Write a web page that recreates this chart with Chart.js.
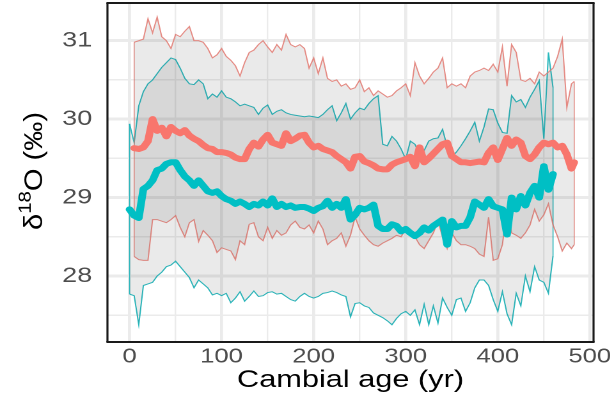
<!DOCTYPE html>
<html>
<head>
<meta charset="utf-8">
<script src="https://cdn.jsdelivr.net/npm/chart.js@4.4.1/dist/chart.umd.min.js"></script>
<style>
  html, body { margin: 0; padding: 0; background: #fff; }
  #chart { display: block; }
</style>
</head>
<body>
<canvas id="chart" width="480" height="412"></canvas>
<script>
// cambial age (yr) of each point, one group per colour
let redAge = [5, 10, 15, 20, 25, 30, 35, 40, 45, 50,
  55, 60, 65, 70, 75, 80, 85, 90, 95, 100,
  105, 110, 115, 120, 125, 130, 135, 140, 145, 150,
  155, 160, 165, 170, 175, 180, 185, 190, 195, 200,
  205, 210, 215, 220, 225, 230, 235, 240, 245, 250,
  255, 260, 265, 270, 275, 280, 285, 290, 295, 300,
  305, 310, 315, 320, 325, 330, 335, 340, 345, 350,
  355, 360, 365, 370, 375, 380, 385, 390, 395, 400,
  405, 410, 415, 420, 425, 430, 435, 440, 445, 450,
  455, 460, 465, 470, 475, 480, 483];
let redMean = [29.63, 29.62, 29.64, 29.72, 30.00, 29.85, 29.89, 29.78, 29.90, 29.85,
  29.82, 29.86, 29.79, 29.75, 29.72, 29.67, 29.63, 29.62, 29.58, 29.58,
  29.57, 29.55, 29.51, 29.49, 29.49, 29.62, 29.70, 29.65, 29.74, 29.80,
  29.70, 29.68, 29.66, 29.82, 29.72, 29.75, 29.79, 29.80, 29.70, 29.64,
  29.66, 29.62, 29.60, 29.58, 29.53, 29.49, 29.45, 29.37, 29.52, 29.53,
  29.46, 29.44, 29.41, 29.37, 29.36, 29.36, 29.42, 29.45, 29.47, 29.49,
  29.52, 29.40, 29.64, 29.45, 29.50, 29.56, 29.62, 29.68, 29.70, 29.53,
  29.49, 29.45, 29.45, 29.44, 29.45, 29.46, 29.45, 29.57, 29.64, 29.48,
  29.62, 29.76, 29.66, 29.74, 29.70, 29.53, 29.49, 29.55, 29.64, 29.70,
  29.68, 29.70, 29.64, 29.66, 29.55, 29.37, 29.45];
let redUpper = [30.98, 31.00, 31.02, 31.28, 31.10, 31.30, 31.05, 31.00, 30.90, 31.08,
  31.05, 31.12, 31.18, 31.00, 31.00, 30.98, 30.90, 30.78, 30.82, 30.90,
  30.80, 30.75, 30.68, 30.55, 30.72, 30.85, 30.88, 30.95, 31.00, 30.92,
  30.85, 30.95, 30.88, 31.08, 30.95, 30.92, 30.95, 30.90, 30.65, 30.78,
  30.58, 30.78, 30.52, 30.48, 30.50, 30.42, 30.45, 30.38, 30.40, 30.50,
  30.35, 30.40, 30.30, 30.36, 30.32, 30.28, 30.30, 30.36, 30.40, 30.45,
  30.30, 30.72, 30.55, 30.45, 30.52, 30.60, 30.65, 30.78, 30.40, 30.45,
  30.42, 30.45, 30.40, 30.55, 30.60, 30.62, 30.65, 30.62, 30.70, 30.60,
  30.92, 30.42, 30.95, 30.85, 30.50, 30.48, 30.52, 30.45, 30.60, 30.55,
  30.60, 30.65, 30.80, 31.02, 30.15, 30.45, 30.48];
let redLower = [28.25, 28.21, 28.20, 28.20, 28.72, 28.72, 28.70, 28.68, 28.72, 28.77,
  28.62, 28.50, 28.68, 28.72, 28.44, 28.58, 28.52, 28.45, 28.30, 28.36,
  28.34, 28.32, 28.21, 28.45, 28.40, 28.66, 28.68, 28.50, 28.45, 28.62,
  28.48, 28.58, 28.52, 28.55, 28.65, 28.70, 28.62, 28.60, 28.65, 28.55,
  28.70, 28.60, 28.40, 28.45, 28.48, 28.55, 28.38, 28.52, 28.75, 28.60,
  28.52, 28.45, 28.40, 28.38, 28.42, 28.45, 28.48, 28.52, 28.50, 28.60,
  28.55, 28.50, 28.40, 28.35, 28.45, 28.55, 28.70, 28.50, 28.35, 28.55,
  28.45, 28.40, 28.40, 28.38, 28.35, 28.28, 28.25, 28.75, 28.20, 28.22,
  28.40, 28.85, 28.55, 28.52, 28.48, 28.55, 28.65, 28.85, 28.70, 28.78,
  28.92, 28.65, 28.50, 28.32, 28.42, 28.35, 28.40];

let tealAge = [0, 5, 10, 15, 20, 25, 30, 35, 40, 45,
  50, 55, 60, 65, 70, 75, 80, 85, 90, 95,
  100, 105, 110, 115, 120, 125, 130, 135, 140, 145,
  150, 155, 160, 165, 170, 175, 180, 185, 190, 195,
  200, 205, 210, 215, 220, 225, 230, 235, 240, 245,
  250, 255, 260, 265, 270, 275, 280, 285, 290, 295,
  300, 305, 310, 315, 320, 325, 330, 335, 340, 345,
  350, 355, 360, 365, 370, 375, 380, 385, 390, 395,
  400, 405, 410, 415, 420, 425, 430, 435, 440, 445,
  450, 455, 460];
let tealMean = [28.85, 28.77, 28.74, 29.11, 29.15, 29.22, 29.35, 29.37, 29.43, 29.45,
  29.45, 29.35, 29.27, 29.22, 29.15, 29.22, 29.15, 29.08, 29.06, 29.08,
  29.02, 28.98, 28.96, 28.92, 28.95, 28.92, 28.88, 28.92, 28.90, 28.95,
  28.90, 28.99, 28.88, 28.92, 28.88, 28.90, 28.87, 28.88, 28.88, 28.86,
  28.83, 28.87, 28.89, 28.96, 28.87, 28.92, 28.87, 28.98, 28.72, 28.78,
  28.87, 28.85, 28.87, 28.91, 28.64, 28.60, 28.60, 28.66, 28.64, 28.57,
  28.60, 28.55, 28.51, 28.55, 28.62, 28.58, 28.64, 28.68, 28.72, 28.40,
  28.70, 28.62, 28.64, 28.64, 28.75, 28.95, 28.91, 28.87, 28.98, 28.89,
  28.87, 28.85, 28.53, 29.00, 28.85, 29.02, 28.90, 29.06, 29.15, 29.00,
  29.40, 29.10, 29.30];
let tealUpper = [29.94, 29.70, 30.17, 30.35, 30.45, 30.50, 30.58, 30.66, 30.72, 30.78,
  30.76, 30.65, 30.52, 30.45, 30.44, 30.50, 30.45, 30.26, 30.32, 30.28,
  30.36, 30.28, 30.26, 30.22, 30.17, 30.19, 30.17, 30.15, 30.06, 30.14,
  30.18, 30.06, 30.10, 30.12, 30.08, 30.06, 30.05, 30.04, 30.03, 30.04,
  30.03, 30.02, 30.06, 30.12, 30.17, 29.98, 30.08, 30.20, 30.00, 30.08,
  30.14, 30.12, 30.20, 30.26, 30.30, 29.68, 29.66, 29.78, 29.72, 29.62,
  29.49, 29.72, 29.68, 29.55, 29.60, 29.72, 29.75, 29.76, 29.87, 29.65,
  29.52, 29.58, 29.66, 29.75, 29.85, 29.96, 29.72, 29.90, 30.13, 30.12,
  29.95, 29.83, 29.82, 30.30, 30.22, 30.25, 30.15, 30.28, 30.38, 30.49,
  29.75, 30.85, 30.40];
let tealLower = [27.77, 27.75, 27.38, 27.88, 27.90, 27.92, 28.00, 28.05, 28.12, 28.14,
  28.19, 28.12, 28.05, 27.98, 27.85, 27.95, 27.90, 27.85, 27.76, 27.78,
  27.75, 27.78, 27.66, 27.72, 27.80, 27.68, 27.74, 27.81, 27.74, 27.75,
  27.79, 27.80, 27.77, 27.78, 27.74, 27.70, 27.68, 27.74, 27.78, 27.74,
  27.72, 27.74, 27.78, 27.79, 27.81, 27.79, 27.76, 27.74, 27.48, 27.65,
  27.66, 27.62, 27.60, 27.53, 27.50, 27.47, 27.43, 27.38, 27.46, 27.52,
  27.55, 27.50, 27.57, 27.38, 27.64, 27.38, 27.62, 27.40, 27.72, 27.60,
  27.50, 27.70, 27.72, 27.55, 27.66, 27.85, 27.95, 27.95, 27.88, 27.70,
  27.55, 27.80, 27.52, 27.38, 27.78, 27.62, 28.00, 27.80, 28.12, 27.95,
  27.92, 27.78, 28.26];

let xLabels = [0, 100, 200, 300, 400, 500];
let yLabels = [28, 29, 30, 31];

const RED = '#F8766D';
const TEAL = '#00BFC4';
const RED_EDGE = 'rgba(226, 120, 112, 0.85)';
const TEAL_EDGE = 'rgba(20, 178, 184, 0.9)';
const BAND = 'rgba(51, 51, 51, 0.1)';
const FONT = "'Liberation Sans', Arial, Helvetica, sans-serif";

function pts(age, val) {
  return age.map((a, i) => ({x: a, y: val[i]}));
}

function band(data, edge, fill) {
  return {data: data, borderColor: edge, borderWidth: 1, backgroundColor: BAND,
    fill: fill, pointRadius: 0, tension: 0, order: 2};
}

function isWhole(v) { return Math.abs(v - Math.round(v)) < 1e-6; }

// closes the ribbon ends, draws the panel border and the y title with its superscript
let frame = {
  id: 'frame',
  afterDatasetDraw(chart, args) {
    let sets = {1: [redAge, redLower, redUpper, RED_EDGE], 3: [tealAge, tealLower, tealUpper, TEAL_EDGE]};
    let s = sets[args.index];
    if (!s) return;
    let ctx = chart.ctx, xs = chart.scales.x, ys = chart.scales.y;
    ctx.save();
    ctx.strokeStyle = s[3];
    ctx.lineWidth = 0.8;
    [0, s[0].length - 1].forEach(i => {
      let px = xs.getPixelForValue(s[0][i]);
      ctx.beginPath();
      ctx.moveTo(px, ys.getPixelForValue(s[1][i]));
      ctx.lineTo(px, ys.getPixelForValue(s[2][i]));
      ctx.stroke();
    });
    ctx.restore();
  },
  afterDraw(chart) {
    let ctx = chart.ctx, a = chart.chartArea;
    ctx.save();
    ctx.strokeStyle = '#1a1a1a';
    ctx.lineWidth = 2;
    ctx.beginPath();
    ctx.moveTo(a.left - 0.8, a.top); ctx.lineTo(a.right + 0.8, a.top);
    ctx.moveTo(a.left - 0.8, a.bottom); ctx.lineTo(a.right + 0.8, a.bottom);
    ctx.stroke();
    ctx.lineWidth = 1.6;
    ctx.beginPath();
    ctx.moveTo(a.left, a.top); ctx.lineTo(a.left, a.bottom);
    ctx.moveTo(a.right, a.top); ctx.lineTo(a.right, a.bottom);
    ctx.stroke();

    // y title: δ, raised 18, then O (‰)
    let big = '20px ' + FONT, small = '14px ' + FONT;
    let parts = [['δ', big, 0], ['18', small, -9], ['O (‰)', big, 0]];
    let total = 0;
    parts.forEach(p => { ctx.font = p[1]; p.push(ctx.measureText(p[0]).width); total += p[3]; });
    ctx.translate(32.8, 171);
    ctx.rotate(-Math.PI / 2);
    ctx.scale(118 / total, 1);
    ctx.fillStyle = '#000';
    ctx.textBaseline = 'alphabetic';
    ctx.textAlign = 'left';
    let x = -total / 2;
    parts.forEach(p => { ctx.font = p[1]; ctx.fillText(p[0], x, p[2]); x += p[3]; });
    ctx.restore();
  }
};

let ctx = document.getElementById('chart').getContext('2d');
let chart = new Chart(ctx, {
  type: 'line',
  data: {
    datasets: [
      band(pts(redAge, redUpper), RED_EDGE, '+1'),
      band(pts(redAge, redLower), RED_EDGE, false),
      band(pts(tealAge, tealUpper), TEAL_EDGE, '+1'),
      band(pts(tealAge, tealLower), TEAL_EDGE, false),
      {data: pts(redAge, redMean), borderColor: RED, borderWidth: 6, fill: false,
        pointRadius: 0, tension: 0, borderJoinStyle: 'round', borderCapStyle: 'round', order: 1},
      {data: pts(tealAge, tealMean), borderColor: TEAL, borderWidth: 6, fill: false,
        pointRadius: 0, tension: 0, borderJoinStyle: 'round', borderCapStyle: 'round', order: 0}
    ]
  },
  options: {
    responsive: false,
    devicePixelRatio: 2,
    animation: false,
    layout: {padding: {left: 0, right: 16, top: 3, bottom: 0}},
    plugins: {legend: {display: false}, tooltip: {enabled: false}},
    scales: {
      x: {
        type: 'linear', min: -24, max: 504,
        border: {display: false},
        grid: {color: '#ebebeb', drawTicks: false,
          lineWidth: c => (c.tick && c.tick.value % 100 === 0) ? 2.4 : 1.2},
        ticks: {stepSize: 50, includeBounds: false, autoSkip: false, maxRotation: 0,
          padding: 3, color: '#4d4d4d', font: {family: FONT, size: 20},
          callback: v => xLabels.includes(v) ? String(v) : ''},
        title: {display: true, text: 'Cambial age (yr)', color: '#000',
          font: {family: FONT, size: 24}, padding: {top: 0, bottom: 17}},
        afterFit: s => { s.height = 70; s.paddingLeft = 0; s.paddingRight = 0; }
      },
      y: {
        min: 27.16, max: 31.48,
        border: {display: false},
        grid: {color: '#ebebeb', drawTicks: false,
          lineWidth: c => (c.tick && isWhole(c.tick.value)) ? 3 : 1.5},
        ticks: {stepSize: 0.5, includeBounds: false, autoSkip: false,
          padding: 12, color: '#4d4d4d', font: {family: FONT, size: 21},
          callback: v => yLabels.some(t => Math.abs(t - v) < 1e-6) ? String(Math.round(v)) : ''},
        title: {display: false},
        afterFit: s => { s.width = 84; s.paddingTop = 0; s.paddingBottom = 0; }
      }
    }
  },
  plugins: [frame]
});
// the picture is wider than it is drawn: stretch the canvas to the page
chart.canvas.style.width = '614px';
chart.canvas.style.height = '412px';
</script>
</body>
</html>
